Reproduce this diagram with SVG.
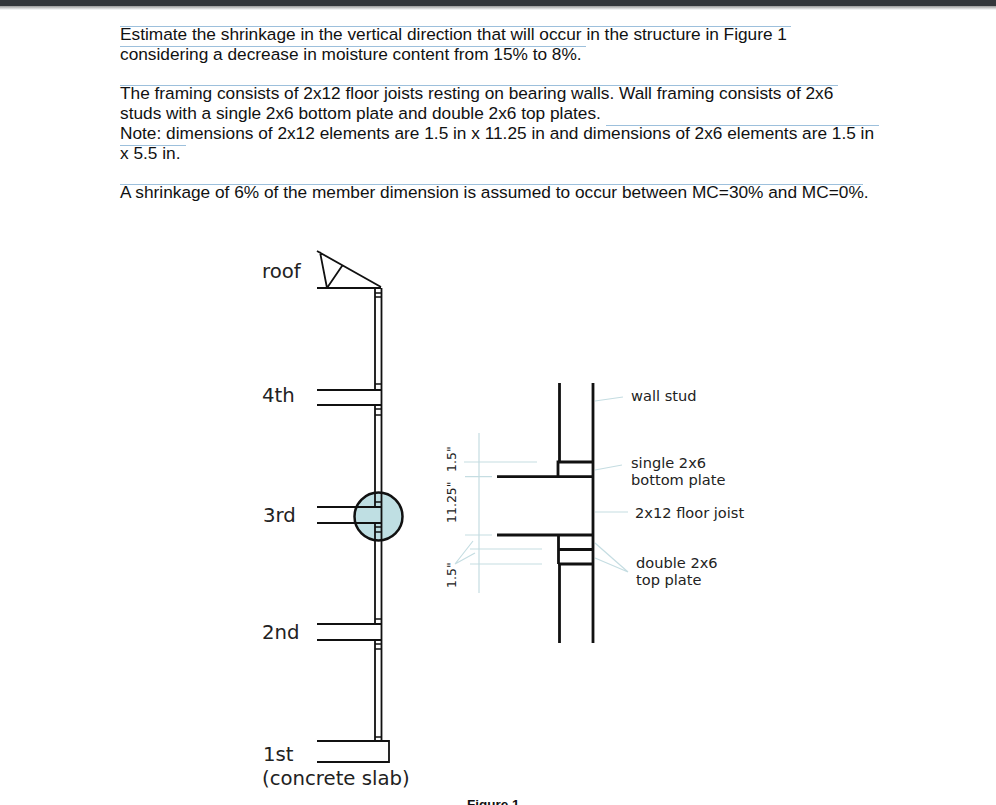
<svg xmlns="http://www.w3.org/2000/svg" width="996" height="805" viewBox="0 0 996 805">
<style>
.t{font-family:"Liberation Sans",Arial,sans-serif;font-size:17.280px;fill:#111}
.u{stroke:#9dc0dc;stroke-width:1;fill:none}
.d{font-family:"DejaVu Sans",Verdana,sans-serif;fill:#222}
.f{font-size:19.700px}
.s{font-size:14.600px}
.r{font-size:12.500px}
.k{stroke:#111;stroke-width:1.800;fill:none}
.p{stroke:#111;stroke-width:1.500;fill:none}
.b{stroke:#111;stroke-width:2.800;fill:none}
.l{stroke:#c5dde2;stroke-width:1.200;fill:none}
</style>
<defs><linearGradient id="sh" x1="0" y1="0" x2="0" y2="1"><stop offset="0" stop-color="#999"/><stop offset="1" stop-color="#fff"/></linearGradient></defs>
<rect width="996" height="805" fill="#fff"/>
<rect y="6" width="996" height="4" fill="url(#sh)"/>
<rect width="996" height="6" fill="#33363a"/>
<g id="text-rules">
<path class="u" d="M120 26.500H791M120 46.500H586M120 85.500H838M606 125.500H879M120 145.500H186M120 184.500H863"/>
</g>
<g id="problem-text">
<text class="t" x="120" y="39.500">Estimate the shrinkage in the vertical direction that will occur in the structure in Figure 1</text>
<text class="t" x="120" y="59.500">considering a decrease in moisture content from 15% to 8%.</text>
<text class="t" x="120" y="98.500">The framing consists of 2x12 floor joists resting on bearing walls. Wall framing consists of 2x6</text>
<text class="t" x="120" y="118.500">studs with a single 2x6 bottom plate and double 2x6 top plates.</text>
<text class="t" x="120" y="138.500">Note: dimensions of 2x12 elements are 1.5 in x 11.25 in and dimensions of 2x6 elements are 1.5 in</text>
<text class="t" x="120" y="158.500">x 5.5 in.</text>
<text class="t" x="120" y="197.500">A shrinkage of 6% of the member dimension is assumed to occur between MC=30% and MC=0%.</text>
</g>
<g id="detail-circle"><circle cx="378.500" cy="516.500" r="24" fill="#bfdfe3"/></g>
<g id="elevation">
<path class="k" d="M317 251L381 287M317 288H381M320 252L327 288M327 288L342 266"/>
<path class="k" d="M375 288V390M381.500 288V741M375 405V507M375 523V624M375 640V741"/>
<path class="k" d="M317 390H381.500M317 405H381.500M317 507H381.500M317 523H381.500M317 624H381.500M317 640H381.500"/>
<path class="k" d="M317 741H389V762H317"/>
<path class="p" d="M375 293H381.500M375 297H381.500M375 384H381.500M375 409H381.500M375 415H381.500M375 502H381.500M375 527H381.500M375 532H381.500M375 619H381.500M375 644H381.500M375 649H381.500M375 737H381.500"/>
</g>
<g id="detail-circle-outline"><circle cx="378.500" cy="516.500" r="24" fill="none" stroke="#111" stroke-width="2.500"/></g>
<g id="floor-labels">
<text class="d f" x="262" y="278">roof</text>
<text class="d f" x="262" y="402">4th</text>
<text class="d f" x="263" y="522">3rd</text>
<text class="d f" x="262" y="639">2nd</text>
<text class="d f" x="263" y="761">1st</text>
<text class="d f" x="262" y="785">(concrete slab)</text>
</g>
<g id="connectors">
<path class="l" d="M479 433V593M464 462H537M465 476.700H492M465 535H492M470 549H542M470 564H542M455 564L473 541M455 564L475 553"/>
<path class="l" d="M595 401L623 397M595 470L622 465M595 512H628M595 543L628 572M595 558L628 572"/>
</g>
<g id="wall-detail">
<path class="b" d="M559.500 383V462M593 383V643M559.500 564V643"/>
<path class="b" d="M558 476.700V462H593M497 476.700H593M497 535H593M558.500 535V564M558.500 549.500H593M558.500 564H593"/>
</g>
<g id="detail-labels">
<text class="d s" x="631" y="401">wall stud</text>
<text class="d s" x="631" y="468">single 2x6</text>
<text class="d s" x="631" y="485">bottom plate</text>
<text class="d s" x="635" y="518">2x12 floor joist</text>
<text class="d s" x="636" y="568">double 2x6</text>
<text class="d s" x="636" y="585">top plate</text>
<text class="d r" transform="translate(456 523) rotate(-90)">11.25"</text>
<text class="d r" transform="translate(456 472) rotate(-90)">1.5"</text>
<text class="d r" transform="translate(456 588) rotate(-90)">1.5"</text>
</g>
<text id="caption" x="467" y="809" style="font-family:'Liberation Sans',Arial,sans-serif;font-size:13.500px;font-weight:bold;fill:#111">Figure 1</text>
</svg>
